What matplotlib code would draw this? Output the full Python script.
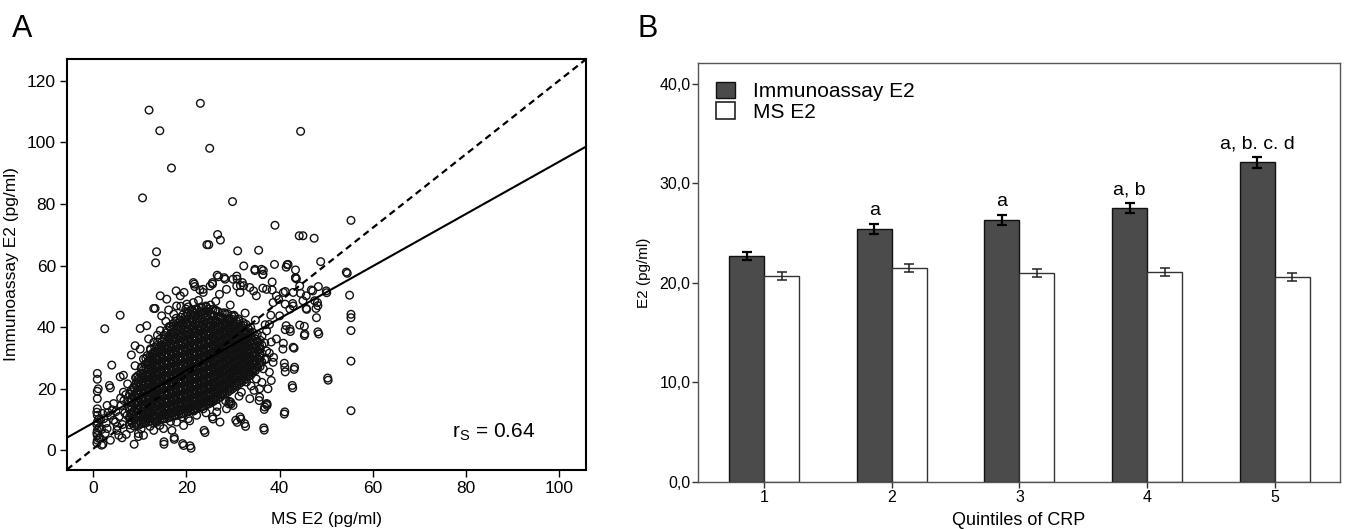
import numpy as np
import matplotlib.pyplot as plt
from matplotlib.patches import Patch
from matplotlib.ticker import FuncFormatter

plt.rcParams['font.family'] = ['Liberation Sans', 'DejaVu Sans']
plt.rcParams['mathtext.fontset'] = 'custom'
plt.rcParams['mathtext.rm'] = 'Liberation Sans'

# ---------------- panel A data (MS E2, Immunoassay E2) ----------------
# loose points (outliers and the fringe of the cloud)
scatter_points = [
    (12.0, 110.5), (23.0, 112.7), (14.3, 103.8), (44.5, 103.6), (25.0, 98.1), (16.8, 91.7),
    (10.6, 82.0), (29.9, 80.8), (55.3, 74.7), (39.0, 73.1), (26.7, 70.1), (27.3, 68.3),
    (24.4, 66.8), (24.8, 66.8), (44.2, 69.7), (45.0, 69.7), (47.4, 68.9), (13.6, 64.5),
    (31.0, 64.8), (35.5, 65.0), (13.4, 60.9), (38.9, 60.4), (41.6, 60.3), (41.4, 59.5),
    (48.8, 61.3), (43.4, 58.6), (54.5, 57.5), (32.3, 59.9), (34.7, 58.4), (36.5, 58.4),
    (36.4, 57.1), (55.0, 50.4), (55.3, 44.2), (55.3, 43.1), (55.3, 38.9), (55.3, 29.0),
    (55.3, 12.9), (50.4, 22.8), (50.1, 51.2), (48.4, 37.8), (47.9, 43.1), (47.8, 46.1),
    (48.1, 48.0), (46.8, 52.1), (48.3, 53.2), (45.3, 40.3), (45.3, 37.3), (45.8, 45.8),
    (44.5, 51.0), (43.4, 56.0), (43.6, 55.7), (42.8, 47.7), (41.2, 51.6), (41.2, 47.5),
    (41.2, 39.2), (41.0, 28.3), (43.1, 26.3), (41.2, 25.5), (42.8, 20.3), (43.1, 33.2),
    (41.0, 11.8), (42.3, 38.6), (40.8, 34.8), (38.7, 30.2), (36.7, 6.6), (37.3, 15.1),
    (37.3, 14.6), (36.7, 13.3), (32.7, 7.8), (31.7, 10.2), (30.9, 9.1), (29.6, 15.1),
    (29.1, 15.1), (24.0, 5.8), (25.7, 10.2), (20.7, 9.6), (21.0, 0.7), (19.4, 1.6),
    (17.4, 3.6), (15.2, 2.0), (8.8, 2.0), (9.7, 4.5), (5.8, 43.9), (2.5, 39.5),
    (10.1, 39.6), (4.0, 27.7), (3.7, 20.3), (0.9, 25.0), (0.9, 23.1), (0.9, 19.2),
    (0.9, 16.8), (5.8, 23.9), (6.5, 24.4), (9.0, 34.0), (8.2, 31.0), (13.0, 46.1),
    (13.3, 46.1), (14.4, 50.2), (17.8, 51.8), (18.8, 46.8), (20.4, 46.6), (21.7, 54.0),
    (21.8, 53.2), (23.6, 52.3), (25.6, 54.0), (26.9, 56.4), (28.3, 55.6), (30.9, 55.6),
    (32.3, 53.5), (34.4, 51.8), (36.4, 52.7), (38.4, 54.7), (40.8, 51.3), (39.8, 49.0),
    (38.4, 52.1), (31.6, 53.5),
    (0.9, 13.5), (0.9, 11.4), (0.9, 9.2), (0.9, 6.5), (0.9, 4.9), (0.9, 3.3), (1.8, 1.7),
    (1.1, 20.0), (3.5, 21.1), (6.5, 18.9), (3.0, 14.6), (4.4, 15.2), (3.7, 11.4),
    (2.3, 10.3), (4.8, 9.2), (3.0, 7.1), (5.1, 6.5), (3.7, 3.3), (5.5, 4.9), (7.3, 11.4),
    (9.7, 5.5), (8.0, 7.1), (11.9, 36.2), (14.7, 43.7), (16.2, 45.6), (16.5, 40.2),
    (19.5, 51.3), (20.1, 47.5), (21.5, 54.5), (22.9, 52.1), (26.6, 56.9), (28.1, 56.1),
    (25.6, 54.5), (27.1, 50.7), (30.8, 56.6), (32.0, 54.5), (30.8, 53.4), (34.7, 58.8),
    (36.1, 58.8), (36.4, 57.2), (41.8, 60.4), (43.4, 56.1), (54.3, 57.9), (50.3, 23.5),
    (48.2, 38.5), (48.2, 47.0), (47.5, 48.6), (50.0, 51.8), (45.4, 37.8), (44.3, 40.7),
    (45.7, 46.1), (42.9, 33.5), (43.2, 27.0), (42.7, 21.1), (41.1, 12.5), (36.6, 7.3),
    (36.8, 14.1), (35.6, 16.2), (34.5, 19.5), (35.7, 17.3), (37.2, 15.2), (31.5, 10.9),
    (32.5, 8.7), (30.6, 9.8), (29.2, 15.9), (29.5, 15.7), (25.6, 10.9), (23.8, 6.5),
    (20.8, 1.5), (19.2, 2.2), (17.4, 4.2), (15.2, 2.8), (20.4, 10.3), (19.4, 8.1),
    (17.9, 9.2),
    (38.6, 28.6), (41.1, 27.0), (40.7, 32.9), (39.3, 36.2), (42.2, 39.4), (41.4, 40.5),
    (40.0, 43.7), (42.9, 46.9), (38.6, 48.0), (37.2, 52.3), (39.3, 50.2), (42.9, 51.3),
    (44.3, 53.4), (45.7, 50.2), (47.1, 51.8), (45.0, 48.6), (42.2, 45.9), (35.7, 32.9),
    (37.2, 29.7), (36.5, 26.5), (35.0, 23.2), (38.2, 22.7), (37.5, 20.0), (34.3, 26.5),
    (32.9, 22.2), (31.8, 18.9), (35.7, 20.0), (33.6, 16.8),
    (11.5, 40.5), (14.4, 38.9), (13.0, 35.1), (10.1, 32.9), (9.0, 27.5), (10.8, 29.7),
    (15.8, 49.1), (17.9, 46.9), (18.7, 50.2), (21.5, 48.0), (23.6, 51.3), (25.1, 53.4),
    (28.6, 52.3), (30.0, 55.6), (31.5, 51.3), (33.6, 52.9), (35.0, 50.2),
    (25.1, 15.7), (26.5, 12.5), (28.6, 13.5), (27.2, 9.2), (30.0, 14.6), (23.6, 13.5),
    (22.2, 11.4), (11.5, 11.4), (13.7, 9.2), (15.1, 7.1), (13.0, 6.5), (10.8, 4.9),
    (16.9, 6.5),
    (2.1, 2.0), (2.6, 5.5), (2.8, 8.9), (3.2, 12.3), (4.1, 13.2), (4.4, 9.8), (5.2, 7.8),
    (5.6, 11.0), (6.0, 14.6), (6.3, 8.4), (6.8, 12.1), (7.1, 5.2), (7.5, 15.8), (7.9, 10.0),
    (6.2, 4.1), (5.9, 17.0), (7.0, 18.1), (6.6, 16.2), (7.7, 13.6), (4.9, 12.6), (1.8, 6.8),
    (1.6, 9.9), (2.0, 12.0), (1.5, 4.0),
    (7.4, 21.6), (9.6, 24.3), (10.4, 27.1), (12.3, 33.0), (13.8, 37.4), (15.6, 41.9),
    (17.3, 44.2), (19.9, 45.9), (22.6, 48.7), (26.3, 48.4), (29.4, 47.2), (32.6, 44.6),
    (34.8, 42.3), (36.9, 40.8), (38.1, 43.9), (37.8, 25.4), (36.2, 22.1), (33.9, 20.9),
    (31.3, 17.6), (28.4, 16.1), (26.6, 14.3), (24.2, 12.2), (21.6, 12.8), (19.1, 10.9),
    (16.6, 9.4), (14.3, 8.1), (12.2, 7.8), (10.3, 7.0), (9.1, 23.6), (11.6, 30.8),
]

# dense core of the cloud: MS E2 column -> Immunoassay E2 values
core_columns = {
    1: [2.4, 3.9, 5.6, 7.3, 8.4, 10.2, 12.4],
    8: [8.3, 9.6, 10.8, 12.1, 13.0, 14.4, 15.5, 16.9, 18.2, 19.6],
    9: [7.9, 9.1, 10.4, 11.5, 12.8, 13.7, 15.1, 16.2, 17.4, 18.8, 20.1, 21.7],
    10: [8.2, 9.4, 10.6, 11.9, 13.1, 14.3, 15.4, 16.8, 17.9, 19.2, 20.6, 21.8, 23.3, 24.9],
    11: [8.8, 10.1, 11.3, 12.4, 13.8, 14.9, 16.1, 17.3, 18.6, 19.8, 21.0, 22.3, 23.5, 24.8, 26.2, 27.9],
    12: [9.2, 10.5, 11.7, 12.9, 14.0, 15.3, 16.5, 17.6, 18.9, 20.2, 21.3, 22.6, 23.8, 25.1, 26.3, 27.6,
         29.0, 30.7],
    13: [9.0, 10.3, 11.6, 12.8, 14.1, 15.2, 16.4, 17.7, 18.8, 20.0, 21.4, 22.5, 23.7, 25.0, 26.2, 27.5,
         28.8, 30.1, 31.6, 33.5],
    14: [9.7, 11.0, 12.2, 13.4, 14.6, 15.8, 17.0, 18.3, 19.4, 20.7, 21.9, 23.1, 24.3, 25.6, 26.8, 28.1,
         29.3, 30.6, 31.9, 33.4, 35.2],
    15: [10.1, 11.4, 12.6, 13.9, 15.0, 16.3, 17.5, 18.7, 19.9, 21.1, 22.4, 23.6, 24.8, 26.0, 27.3, 28.5,
         29.8, 31.0, 32.3, 33.7, 35.3, 37.4],
    16: [10.4, 11.8, 13.0, 14.2, 15.5, 16.6, 17.9, 19.1, 20.3, 21.6, 22.8, 24.0, 25.2, 26.5, 27.7, 28.9,
         30.2, 31.4, 32.7, 33.9, 35.4, 37.0, 39.1],
    17: [10.9, 12.2, 13.5, 14.7, 15.9, 17.2, 18.4, 19.6, 20.9, 22.1, 23.3, 24.5, 25.8, 27.0, 28.2, 29.5,
         30.7, 31.9, 33.2, 34.5, 35.9, 37.6, 39.3, 41.2],
    18: [11.3, 12.6, 13.8, 15.1, 16.3, 17.5, 18.8, 20.0, 21.2, 22.4, 23.7, 24.9, 26.1, 27.4, 28.6, 29.8,
         31.1, 32.3, 33.5, 34.8, 36.2, 37.7, 39.5, 41.4, 42.9],
    19: [11.8, 13.1, 14.3, 15.6, 16.8, 18.0, 19.3, 20.5, 21.7, 22.9, 24.2, 25.4, 26.6, 27.9, 29.1, 30.3,
         31.6, 32.8, 34.0, 35.3, 36.6, 38.0, 39.6, 41.3, 43.2],
    20: [12.2, 13.6, 14.8, 16.0, 17.3, 18.5, 19.7, 21.0, 22.2, 23.4, 24.7, 25.9, 27.1, 28.3, 29.6, 30.8,
         32.0, 33.3, 34.5, 35.7, 37.0, 38.4, 39.9, 41.6, 43.5, 44.8],
    21: [12.9, 14.2, 15.4, 16.7, 17.9, 19.1, 20.4, 21.6, 22.8, 24.1, 25.3, 26.5, 27.8, 29.0, 30.2, 31.4,
         32.7, 33.9, 35.2, 36.4, 37.7, 39.1, 40.6, 42.3, 44.1, 45.7],
    22: [13.3, 14.6, 15.9, 17.1, 18.3, 19.6, 20.8, 22.0, 23.3, 24.5, 25.7, 27.0, 28.2, 29.4, 30.7, 31.9,
         33.1, 34.4, 35.6, 36.8, 38.1, 39.5, 41.0, 42.7, 44.5, 46.0],
    23: [13.9, 15.2, 16.4, 17.7, 18.9, 20.1, 21.4, 22.6, 23.8, 25.1, 26.3, 27.5, 28.8, 30.0, 31.2, 32.5,
         33.7, 34.9, 36.2, 37.4, 38.7, 40.0, 41.5, 43.1, 44.9, 46.6],
    24: [14.4, 15.7, 16.9, 18.2, 19.4, 20.6, 21.9, 23.1, 24.3, 25.6, 26.8, 28.0, 29.3, 30.5, 31.7, 33.0,
         34.2, 35.4, 36.7, 37.9, 39.2, 40.5, 42.0, 43.6, 45.3, 46.9],
    25: [15.1, 16.4, 17.6, 18.8, 20.1, 21.3, 22.5, 23.8, 25.0, 26.2, 27.5, 28.7, 29.9, 31.2, 32.4, 33.6,
         34.9, 36.1, 37.3, 38.6, 39.9, 41.2, 42.7, 44.3, 45.9, 47.2],
    26: [15.9, 17.2, 18.4, 19.7, 20.9, 22.1, 23.4, 24.6, 25.8, 27.1, 28.3, 29.5, 30.8, 32.0, 33.2, 34.5,
         35.7, 36.9, 38.2, 39.5, 40.8, 42.2, 43.8, 45.6],
    27: [16.8, 18.1, 19.3, 20.6, 21.8, 23.0, 24.3, 25.5, 26.7, 28.0, 29.2, 30.4, 31.7, 32.9, 34.1, 35.4,
         36.6, 37.8, 39.1, 40.4, 41.8, 43.3, 45.1],
    28: [17.9, 19.2, 20.4, 21.7, 22.9, 24.1, 25.4, 26.6, 27.8, 29.1, 30.3, 31.5, 32.8, 34.0, 35.2, 36.5,
         37.7, 38.9, 40.2, 41.6, 43.1, 44.7],
    29: [18.8, 20.1, 21.4, 22.6, 23.8, 25.1, 26.3, 27.5, 28.8, 30.0, 31.2, 32.5, 33.7, 34.9, 36.2, 37.4,
         38.6, 39.9, 41.3, 42.8, 44.4],
    30: [19.9, 21.2, 22.5, 23.7, 25.0, 26.2, 27.4, 28.7, 29.9, 31.1, 32.4, 33.6, 34.8, 36.1, 37.3, 38.5,
         39.8, 41.2, 42.6, 43.9],
    31: [21.0, 22.3, 23.6, 24.8, 26.0, 27.3, 28.5, 29.7, 31.0, 32.2, 33.4, 34.7, 35.9, 37.1, 38.4, 39.7,
         41.1, 42.7],
    32: [22.1, 23.5, 24.7, 26.0, 27.2, 28.4, 29.7, 30.9, 32.1, 33.4, 34.6, 35.8, 37.1, 38.4, 39.8, 41.5],
    33: [23.2, 24.6, 25.9, 27.1, 28.4, 29.6, 30.8, 32.1, 33.3, 34.5, 35.8, 37.0, 38.3, 39.7, 40.9],
    34: [24.4, 25.8, 27.1, 28.3, 29.6, 30.8, 32.0, 33.3, 34.5, 35.7, 37.0, 38.4, 39.9],
    35: [25.9, 27.3, 28.6, 29.8, 31.1, 32.4, 33.6, 34.9, 36.2, 37.7],
    36: [27.2, 28.7, 30.1, 31.5, 32.8, 34.2, 35.8, 37.1],
    37: [29.5, 32.3, 34.9, 38.8],
    38: [31.6, 35.2, 40.9],
}

# second layer of the core, between the columns above
core_columns_half = {
    8.5: [8.9, 10.2, 11.6, 12.7, 14.0, 15.3, 16.4, 17.8, 19.0, 20.5],
    9.5: [8.4, 9.8, 11.0, 12.3, 13.5, 14.8, 16.0, 17.1, 18.4, 19.6, 21.0, 22.4, 23.8],
    10.5: [8.6, 9.9, 11.2, 12.4, 13.6, 14.9, 16.2, 17.3, 18.5, 19.9, 21.1, 22.4, 23.6, 25.0, 26.6],
    11.5: [9.0, 10.4, 11.8, 13.0, 14.3, 15.5, 16.7, 17.9, 19.2, 20.4, 21.7, 22.9, 24.1, 25.5, 26.8,
           28.4, 29.9],
    12.5: [9.5, 10.9, 12.3, 13.5, 14.6, 15.9, 17.1, 18.3, 19.5, 20.8, 22.0, 23.2, 24.5, 25.7, 27.0,
           28.3, 29.7, 31.3, 32.6],
    13.5: [9.4, 10.7, 12.0, 13.2, 14.5, 15.7, 16.9, 18.2, 19.4, 20.6, 21.8, 23.1, 24.3, 25.6, 26.9,
           28.1, 29.4, 30.7, 32.2, 34.1],
    14.5: [10.0, 11.3, 12.6, 13.9, 15.1, 16.3, 17.6, 18.8, 20.1, 21.3, 22.5, 23.8, 25.0, 26.2, 27.5,
           28.7, 30.0, 31.3, 32.6, 34.2, 36.1],
    15.5: [10.3, 11.7, 13.0, 14.3, 15.6, 16.8, 18.1, 19.3, 20.6, 21.8, 23.0, 24.3, 25.5, 26.7, 28.0,
           29.2, 30.5, 31.7, 33.0, 34.5, 36.3, 38.2],
    16.5: [10.7, 12.0, 13.4, 14.7, 15.9, 17.2, 18.5, 19.7, 21.0, 22.2, 23.4, 24.7, 25.9, 27.1, 28.4,
           29.6, 30.9, 32.1, 33.4, 34.8, 36.4, 38.1, 40.2],
    17.5: [11.1, 12.5, 13.8, 15.1, 16.4, 17.7, 18.9, 20.2, 21.4, 22.7, 23.9, 25.1, 26.4, 27.6, 28.9,
           30.1, 31.3, 32.6, 33.9, 35.2, 36.8, 38.5, 40.4, 42.0],
    18.5: [11.6, 12.9, 14.2, 15.5, 16.8, 18.1, 19.4, 20.6, 21.8, 23.1, 24.3, 25.6, 26.8, 28.0, 29.3,
           30.5, 31.8, 33.0, 34.2, 35.6, 37.0, 38.7, 40.5, 42.3],
    19.5: [12.0, 13.4, 14.7, 16.0, 17.3, 18.6, 19.9, 21.1, 22.3, 23.6, 24.8, 26.0, 27.3, 28.5, 29.8,
           31.0, 32.2, 33.5, 34.7, 36.0, 37.4, 39.0, 40.7, 42.5, 44.1],
    20.5: [12.6, 13.9, 15.2, 16.5, 17.8, 19.1, 20.3, 21.6, 22.8, 24.0, 25.3, 26.5, 27.7, 29.0, 30.2,
           31.5, 32.7, 33.9, 35.2, 36.4, 37.8, 39.3, 41.0, 42.9, 44.6],
    21.5: [13.1, 14.5, 15.8, 17.0, 18.3, 19.6, 20.9, 22.1, 23.4, 24.6, 25.8, 27.1, 28.3, 29.6, 30.8,
           32.0, 33.3, 34.5, 35.8, 37.1, 38.5, 40.0, 41.7, 43.5, 45.2],
    22.5: [13.6, 15.0, 16.3, 17.6, 18.9, 20.1, 21.4, 22.6, 23.9, 25.1, 26.3, 27.6, 28.8, 30.1, 31.3,
           32.5, 33.8, 35.0, 36.3, 37.6, 39.0, 40.4, 42.1, 43.9, 45.6],
    23.5: [14.2, 15.5, 16.8, 18.1, 19.4, 20.7, 21.9, 23.2, 24.4, 25.7, 26.9, 28.1, 29.4, 30.6, 31.9,
           33.1, 34.3, 35.6, 36.8, 38.1, 39.5, 41.0, 42.7, 44.4, 46.2],
    24.5: [14.8, 16.1, 17.4, 18.7, 20.0, 21.2, 22.5, 23.7, 25.0, 26.2, 27.4, 28.7, 29.9, 31.2, 32.4,
           33.6, 34.9, 36.1, 37.4, 38.7, 40.1, 41.6, 43.3, 45.0, 46.5],
    25.5: [15.5, 16.8, 18.1, 19.4, 20.6, 21.9, 23.1, 24.4, 25.6, 26.9, 28.1, 29.3, 30.6, 31.8, 33.1,
           34.3, 35.5, 36.8, 38.0, 39.3, 40.7, 42.3, 44.0, 45.8],
    26.5: [16.4, 17.7, 19.0, 20.3, 21.5, 22.8, 24.0, 25.3, 26.5, 27.7, 29.0, 30.2, 31.5, 32.7, 33.9,
           35.2, 36.4, 37.7, 39.0, 40.3, 41.7, 43.4, 45.2],
    27.5: [17.3, 18.6, 19.9, 21.2, 22.4, 23.7, 24.9, 26.1, 27.4, 28.6, 29.9, 31.1, 32.3, 33.6, 34.8,
           36.0, 37.3, 38.6, 39.9, 41.3, 42.9, 44.6],
    28.5: [18.4, 19.7, 21.0, 22.2, 23.5, 24.7, 26.0, 27.2, 28.4, 29.7, 30.9, 32.1, 33.4, 34.6, 35.9,
           37.1, 38.4, 39.7, 41.1, 42.6, 44.2],
    29.5: [19.4, 20.7, 22.0, 23.2, 24.5, 25.7, 27.0, 28.2, 29.4, 30.7, 31.9, 33.1, 34.4, 35.6, 36.9,
           38.1, 39.4, 40.8, 42.3, 43.8],
    30.5: [20.5, 21.8, 23.1, 24.3, 25.6, 26.8, 28.1, 29.3, 30.5, 31.8, 33.0, 34.2, 35.5, 36.7, 38.0,
           39.3, 40.6, 42.1, 43.5],
    31.5: [21.6, 22.9, 24.2, 25.5, 26.7, 27.9, 29.2, 30.4, 31.6, 32.9, 34.1, 35.4, 36.6, 37.9, 39.2,
           40.6, 42.1],
    32.5: [22.8, 24.1, 25.4, 26.6, 27.9, 29.1, 30.3, 31.6, 32.8, 34.0, 35.3, 36.5, 37.8, 39.1, 40.5],
    33.5: [24.0, 25.4, 26.6, 27.9, 29.1, 30.4, 31.6, 32.8, 34.1, 35.4, 36.7, 38.1, 39.4],
    34.5: [25.3, 26.8, 28.1, 29.3, 30.6, 31.9, 33.1, 34.4, 35.8, 37.3],
    35.5: [27.0, 28.5, 29.9, 31.2, 32.6, 34.0, 35.5],
}

# fitted lines (intercept, slope)
fit_solid = (8.9, 0.849)
fit_dashed = (0.5, 1.197)
r_s = 0.64

# ---------------- panel B data ----------------
quintiles = [1, 2, 3, 4, 5]
immuno_mean = [22.7, 25.4, 26.3, 27.5, 32.1]
immuno_err = [0.43, 0.47, 0.53, 0.50, 0.53]
ms_mean = [20.7, 21.5, 21.0, 21.1, 20.6]
ms_err = [0.37, 0.38, 0.37, 0.37, 0.38]
sig_labels = ['', 'a', 'a', 'a, b', 'a, b. c. d']

# ---------------- build ----------------
ms_x = [p[0] for p in scatter_points]
imm_y = [p[1] for p in scatter_points]
for cols in (core_columns, core_columns_half):
    for col, ys in cols.items():
        # points in a column are staggered across the bin so they do not line up
        for i, yv in enumerate(ys):
            ms_x.append(col - 0.2 + 0.4 * (i % 2))
            imm_y.append(yv)

W, H = 1346, 529
fig = plt.figure(figsize=(W / 100, H / 100), dpi=100)

# panel A
axA = fig.add_axes([67 / W, 1 - 469.5 / H, (586 - 67) / W, (469.5 - 59.3) / H])
axA.scatter(ms_x, imm_y, s=30, facecolors='none', edgecolors='#111111', linewidths=1.0, zorder=2)
xl = np.array([-5.6, 105.7])
axA.plot(xl, fit_dashed[0] + fit_dashed[1] * xl, color='black', lw=1.6, ls=(0, (3, 2)), zorder=3)
axA.plot(xl, fit_solid[0] + fit_solid[1] * xl, color='black', lw=1.5, zorder=3)
axA.set_xlim(-5.6, 105.7)
axA.set_ylim(-6.2, 127)
axA.set_xticks([0, 20, 40, 60, 80, 100])
axA.set_yticks([0, 20, 40, 60, 80, 100, 120])
axA.tick_params(labelsize=12.5, length=5, width=1, pad=3)
for s in axA.spines.values():
    s.set_linewidth(1.5)
axA.set_xlabel('MS E2 (pg/ml)', fontsize=12.5, labelpad=12)
axA.set_ylabel('Immunoassay E2 (pg/ml)', fontsize=12.5, labelpad=6)
axA.text(77, 6, r'r$_{\mathrm{S}}$ = 0.64', fontsize=15, va='center', ha='left')

# panel B
axB = fig.add_axes([698 / W, 1 - 482 / H, (1340 - 698) / W, (482 - 62.7) / H])
w = 0.274
x = np.array(quintiles)
axB.bar(x - w / 2, immuno_mean, w, color='#4b4b4b', edgecolor='#111111', lw=1, zorder=2)
axB.bar(x + w / 2, ms_mean, w, color='white', edgecolor='#333333', lw=1, zorder=2)
axB.errorbar(x - w / 2, immuno_mean, yerr=immuno_err, fmt='none', ecolor='black',
             elinewidth=1.6, capsize=3.5, capthick=1.6, zorder=3)
axB.errorbar(x + w / 2, ms_mean, yerr=ms_err, fmt='none', ecolor='#222222',
             elinewidth=1.1, capsize=3.5, capthick=1.1, zorder=3)
for xi, m, e, lab in zip(x, immuno_mean, immuno_err, sig_labels):
    if lab:
        axB.text(xi - w / 2, m + e + 0.9, lab, ha='center', va='baseline', fontsize=14)
axB.set_xlim(0.483, 5.51)
axB.set_ylim(0, 42.1)
axB.set_xticks(quintiles)
axB.set_yticks([0, 10, 20, 30, 40])
axB.yaxis.set_major_formatter(FuncFormatter(lambda v, p: f'{v:.1f}'.replace('.', ',')))
axB.tick_params(labelsize=11.5, length=4, width=1, color='#333333', pad=1.5)
for s in axB.spines.values():
    s.set_linewidth(1)
    s.set_color('#555555')
axB.set_xlabel('Quintiles of CRP', fontsize=13, labelpad=5)
axB.set_ylabel('E2 (pg/ml)', fontsize=11, labelpad=6)
handles = [Patch(facecolor='#4b4b4b', edgecolor='#111111', lw=1),
           Patch(facecolor='white', edgecolor='#222222', lw=1.2)]
axB.legend(handles, ['Immunoassay E2', 'MS E2'], loc='upper left', bbox_to_anchor=(0.015, 0.975),
           frameon=False, fontsize=15, handlelength=0.9, handleheight=0.85, handletextpad=0.9,
           labelspacing=0.05, borderaxespad=0)

fig.text(12 / W, 1 - 37 / H, 'A', fontsize=22, va='baseline')
fig.text(638 / W, 1 - 37 / H, 'B', fontsize=22, va='baseline')

fig.savefig('out.png', dpi=100)
